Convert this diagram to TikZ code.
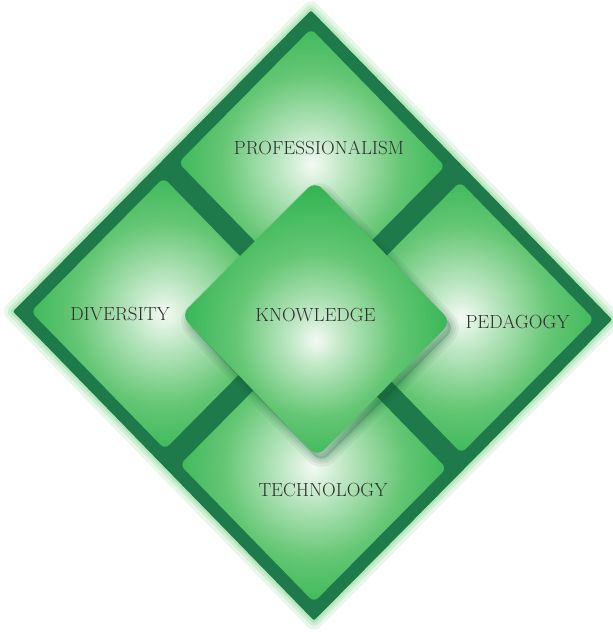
\documentclass[tikz,border=0pt]{standalone}
\usetikzlibrary{calc}
\definecolor{borderdark}{RGB}{30,122,74}
\definecolor{tilegreen}{RGB}{40,178,76}
\definecolor{tilemid}{RGB}{100,198,115}
\definecolor{tilelight}{RGB}{190,231,196}
\definecolor{tilewhite}{RGB}{244,250,244}
\definecolor{glowgreen}{RGB}{90,200,105}
\definecolor{labelgray}{RGB}{48,48,48}
\pgfdeclareradialshading{tileshade}{\pgfpoint{0bp}{0bp}}{color(0bp)=(tilewhite); color(6bp)=(tilelight); color(17bp)=(tilemid); color(30bp)=(tilegreen); color(50bp)=(tilegreen)}
\pgfdeclareradialshading{kernshade}{\pgfpoint{0bp}{-4bp}}{color(0bp)=(tilewhite); color(5bp)=(tilelight); color(15bp)=(tilemid); color(28bp)=(tilegreen); color(50bp)=(tilegreen)}
\tikzset{
  tilebox/.style={shading=tileshade, rounded corners=6pt},
  kernbox/.style={shading=kernshade, rounded corners=10pt},
  lbl/.style={inner sep=0pt, text=labelgray, font=\fontsize{19}{21}\selectfont}
}
\begin{document}
\begin{tikzpicture}[x=1pt,y=-1pt]
\useasboundingbox (0,0) rectangle (613,632);
\coordinate (C) at (312.5,315.5);
\coordinate (va) at (150.5,154.5);
\coordinate (vb) at (-149,150.5);
\coordinate (T) at ($(C)-(va)-(vb)$);
\coordinate (R) at ($(C)+(va)-(vb)$);
\coordinate (B) at ($(C)+(va)+(vb)$);
\coordinate (L) at ($(C)-(va)+(vb)$);
% glow
\begin{scope}[shift={(5,7)}]
\foreach \w/\op in {18/0.14,11/0.18,5/0.22}{
  \filldraw[glowgreen, opacity=\op, line width=\w pt, line join=round] (T) -- (R) -- (B) -- (L) -- cycle;
}
\end{scope}
% outer frame
\fill[borderdark, rounded corners=2pt] (T) -- (R) -- (B) -- (L) -- cycle;
% tiles
\foreach \su/\sv in {-1/-1,1/-1,1/1,-1/1}{
  \path[tilebox]
    ($(C)+{\su*0.94}*(va)+{\sv*0.94}*(vb)$) --
    ($(C)+{\su*0.05}*(va)+{\sv*0.94}*(vb)$) --
    ($(C)+{\su*0.05}*(va)+{\sv*0.05}*(vb)$) --
    ($(C)+{\su*0.94}*(va)+{\sv*0.05}*(vb)$) -- cycle;
}
% shadow of the centre diamond
\begin{scope}[shift={(4,6)}]
\foreach \w/\op in {16/0.07,10/0.08,5/0.09}{
  \filldraw[borderdark!70!black, opacity=\op, line width=\w pt, line join=round, rounded corners=10pt]
    (315,181) -- (451,322) -- (317,457) -- (181,315) -- cycle;
}
\end{scope}
% centre diamond
\path[kernbox] (315,181) -- (451,322) -- (317,457) -- (181,315) -- cycle;
% labels
\node[lbl] (prof) at (319,148) {PROFESSIONALISM};
\node[lbl] (know) at (315.5,315) {KNOWLEDGE};
\node[lbl] (div) at (120,314) {DIVERSITY};
\node[lbl] (ped) at (517.5,322) {PEDAGOGY};
\node[lbl] (tech) at (323,490) {TECHNOLOGY};
\end{tikzpicture}
\end{document}
